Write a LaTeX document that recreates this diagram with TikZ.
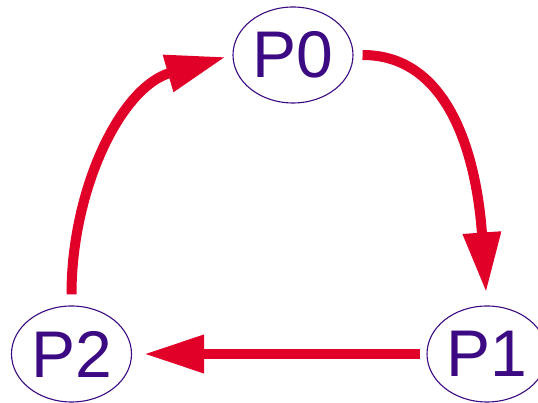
\documentclass[tikz,border=0pt]{standalone}
\usepackage{fontspec}
\setmainfont{Liberation Sans}
\usetikzlibrary{arrows.meta,positioning,shapes.geometric}
\definecolor{procpurple}{RGB}{60,10,130}
\definecolor{flowred}{RGB}{225,0,40}
\tikzset{
    >={Triangle[length=60pt,width=36pt]},
    proc/.style={
           ellipse,
           draw=procpurple, line width=1.1pt,
           text=procpurple,
           minimum width=120pt,
           minimum height=96pt,
           inner sep=0pt,
           font=\fontsize{66}{66}\selectfont,
           text centered},
    flow/.style={
           ->,
           draw=flowred,
           line width=10pt}
}

\begin{document}
\begin{tikzpicture}[x=1pt, y=1pt]
        \useasboundingbox (0,0) rectangle (538,403);
        \node[proc] (p0) at (293,348) {P0};
        \node[proc] (p1) at (487,49) {P1};
        \node[proc] (p2) at (71.5,49) {P2};

        \draw[flow, shorten <=9pt, shorten >=13pt] (p0.east) to[out=0, in=94] (p1.north);
        \draw[flow, shorten <=6pt, shorten >=12pt] (p1.west) -- (p2.east);
        \draw[flow, shorten <=11pt, shorten >=7pt] (p2.north) to[out=90, in=196] (p0.west);
\end{tikzpicture}
\end{document}
